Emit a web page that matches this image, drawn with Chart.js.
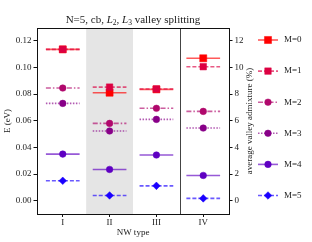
<!DOCTYPE html>
<html>
<head>
<meta charset="utf-8">
<script src="https://cdn.jsdelivr.net/npm/chart.js@4.4.1/dist/chart.umd.min.js"></script>
<style>
  html, body { margin: 0; padding: 0; background: #fff; }
  #wrap { width: 312px; height: 242px; }
</style>
</head>
<body>
<div id="wrap"><canvas id="splitting-chart"></canvas></div>
<script>
// NW types and the six valley levels (eV)
const categories = ["I", "II", "III", "IV"];
const seriesLabels = ["M=0", "M=1", "M=2", "M=3", "M=4", "M=5"];
const energyM0 = [0.1135, 0.0810, 0.0835, 0.1068];
const energyM1 = [0.1135, 0.0852, 0.0838, 0.1005];
const energyM2 = [0.0845, 0.0580, 0.0693, 0.0670];
const energyM3 = [0.0730, 0.0523, 0.0610, 0.0545];
const energyM4 = [0.0350, 0.0235, 0.0343, 0.0190];
const energyM5 = [0.0150, 0.0040, 0.0112, 0.0018];
const leftTicks = [0, 0.02, 0.04, 0.06, 0.08, 0.10, 0.12];
const rightTicks = [0, 2, 4, 6, 8, 10, 12];

const energies = [energyM0, energyM1, energyM2, energyM3, energyM4, energyM5];

// styling
const colors = ["#ff0000", "#dc0042", "#b0086c", "#880088", "#5f00c2", "#1a00ff"];
const dashes = [[], [4, 2], [5, 2, 1.5, 2], [1.5, 1.5], [], [4, 2]];
const markers = ["rect", "rect", "circle", "circle", "circle", "rectRot"];
const radii = [5, 4.6, 3.3, 3.3, 3.3, 3.8];
const halfWidth = 0.36;
const serif = '"Liberation Serif", "DejaVu Serif", serif';

Chart.defaults.font.family = serif;
Chart.defaults.color = "#222";

function fade(hex, a) {
    const n = parseInt(hex.slice(1), 16);
    return "rgba(" + (n >> 16) + "," + ((n >> 8) & 255) + "," + (n & 255) + "," + a + ")";
}

const datasets = energies.map(function(vals, s) {
    const pts = [];
    vals.forEach(function(v, i) {
        pts.push({x: i - halfWidth, y: v});
        pts.push({x: i, y: v, mid: true});
        pts.push({x: i + halfWidth, y: v});
        pts.push({x: i + 0.5, y: null});
    });
    return {
        label: seriesLabels[s],
        data: pts,
        yAxisID: "y",
        order: 5 - s,
        borderColor: fade(colors[s], 0.65),
        borderWidth: 1.6,
        borderDash: dashes[s],
        pointStyle: markers[s],
        pointRadius: function(c) { return c.raw && c.raw.mid ? radii[s] : 0; },
        pointBackgroundColor: colors[s],
        pointBorderColor: colors[s],
        pointBorderWidth: 0.5,
        spanGaps: false,
        tension: 0,
        fill: false
    };
});

const decorations = {
    id: "decorations",
    beforeDatasetsDraw: function(chart) {
        const ctx = chart.ctx, a = chart.chartArea, x = chart.scales.x;
        ctx.save();
        // shaded NW type II column
        ctx.fillStyle = "#e5e5e5";
        const x0 = x.getPixelForValue(0.5), x1 = x.getPixelForValue(1.5);
        ctx.fillRect(x0, a.top, x1 - x0, a.bottom - a.top);
        // separator before type IV
        const xs = Math.round(x.getPixelForValue(2.5)) + 0.5;
        ctx.strokeStyle = "#444";
        ctx.lineWidth = 1;
        ctx.beginPath();
        ctx.moveTo(xs, a.top);
        ctx.lineTo(xs, a.bottom);
        ctx.stroke();
        ctx.restore();
    },
    afterDraw: function(chart) {
        const ctx = chart.ctx, a = chart.chartArea;
        ctx.save();
        // frame
        ctx.strokeStyle = "#111";
        ctx.lineWidth = 1;
        ctx.strokeRect(Math.round(a.left) + 0.5, Math.round(a.top) + 0.5,
            Math.round(a.right - a.left), Math.round(a.bottom - a.top));

        // title with italic L and subscripts
        const parts = [
            ["N=5, cb, ", "11px " + serif, 0],
            ["L", "italic 11px " + serif, 0],
            ["2", "7.5px " + serif, 2.5],
            [", ", "11px " + serif, 0],
            ["L", "italic 11px " + serif, 0],
            ["3", "7.5px " + serif, 2.5],
            [" valley splitting", "11px " + serif, 0]
        ];
        let total = 0;
        parts.forEach(function(p) { ctx.font = p[1]; total += ctx.measureText(p[0]).width; });
        let tx = (a.left + a.right) / 2 - total / 2;
        ctx.fillStyle = "#222";
        ctx.textBaseline = "alphabetic";
        ctx.textAlign = "left";
        parts.forEach(function(p) {
            ctx.font = p[1];
            ctx.fillText(p[0], tx, 22.5 + p[2]);
            tx += ctx.measureText(p[0]).width;
        });

        // right axis title, reading bottom to top
        ctx.save();
        ctx.translate(a.right + 21, (a.top + a.bottom) / 2);
        ctx.rotate(-Math.PI / 2);
        ctx.font = "9px " + serif;
        ctx.textAlign = "center";
        ctx.textBaseline = "middle";
        ctx.fillText("average valley admixture (%)", 0, 0);
        ctx.restore();

        // legend
        const lx = a.right + 29;
        seriesLabels.forEach(function(label, s) {
            const ly = a.top + 12 + s * 31.1;
            ctx.strokeStyle = fade(colors[s], 0.65);
            ctx.lineWidth = 1.6;
            ctx.setLineDash(dashes[s]);
            ctx.beginPath();
            ctx.moveTo(lx, ly);
            ctx.lineTo(lx + 20, ly);
            ctx.stroke();
            ctx.setLineDash([]);
            ctx.fillStyle = colors[s];
            ctx.strokeStyle = colors[s];
            ctx.lineWidth = 0.5;
            Chart.helpers.drawPoint(ctx, {pointStyle: markers[s], radius: radii[s], rotation: 0, borderWidth: 0.5}, lx + 10, ly);
            ctx.fillStyle = "#222";
            ctx.font = "9px " + serif;
            ctx.textAlign = "left";
            ctx.textBaseline = "middle";
            ctx.fillText(label, lx + 26, ly);
        });
        ctx.restore();
    }
};

new Chart(document.getElementById("splitting-chart").getContext("2d"), {
    type: "line",
    data: { datasets: datasets },
    options: {
        responsive: true,
        maintainAspectRatio: false,
        animation: false,
        devicePixelRatio: 1,
        events: [],
        layout: { padding: { top: 28, right: 55, left: 0, bottom: 0 } },
        plugins: {
            legend: { display: false },
            title: { display: false },
            tooltip: { enabled: false }
        },
        scales: {
            x: {
                type: "linear",
                min: -0.55,
                max: 3.55,
                afterBuildTicks: function(s) { s.ticks = categories.map(function(c, i) { return {value: i}; }); },
                afterFit: function(s) { s.height = 28; },
                ticks: {
                    callback: function(v) { return categories[v]; },
                    font: { size: 9 },
                    padding: 0,
                    maxRotation: 0,
                    color: "#222"
                },
                grid: { drawOnChartArea: false, drawTicks: true, tickLength: 3, color: "#111" },
                border: { display: true, color: "#111" },
                title: { display: true, text: "NW type", font: { size: 9 }, padding: { top: 0, bottom: 4 }, color: "#222" }
            },
            y: {
                type: "linear",
                position: "left",
                min: -0.0099,
                max: 0.1295,
                afterBuildTicks: function(s) { s.ticks = leftTicks.map(function(v) { return {value: v}; }); },
                afterFit: function(s) { s.width = 37; },
                ticks: {
                    callback: function(v) { return v.toFixed(2); },
                    font: { size: 9 },
                    padding: 2,
                    color: "#222"
                },
                grid: { drawOnChartArea: false, drawTicks: true, tickLength: 3.5, color: "#111" },
                border: { display: true, color: "#111" },
                title: { display: true, text: "E (eV)", font: { size: 9 }, padding: { top: 2, bottom: 0 }, color: "#222" }
            },
            y2: {
                type: "linear",
                position: "right",
                min: -0.99,
                max: 12.95,
                afterBuildTicks: function(s) { s.ticks = rightTicks.map(function(v) { return {value: v}; }); },
                afterFit: function(s) { s.width = 28; },
                ticks: {
                    callback: function(v) { return String(v); },
                    font: { size: 9 },
                    padding: 2,
                    color: "#222"
                },
                grid: { drawOnChartArea: false, drawTicks: true, tickLength: 3.5, color: "#111" },
                border: { display: true, color: "#111" }
            }
        }
    },
    plugins: [decorations]
});
</script>
</body>
</html>
